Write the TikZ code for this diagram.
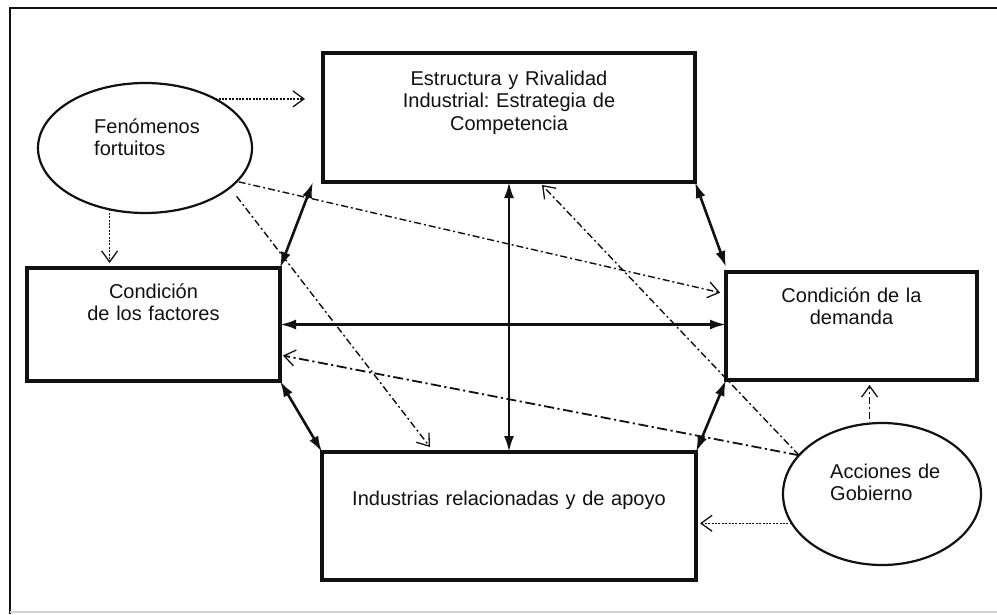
\documentclass[tikz,border=0pt]{standalone}
\usepackage{fontspec}
\setmainfont{Liberation Sans}
\usetikzlibrary{shapes.geometric,arrows.meta,calc}

\definecolor{ink}{HTML}{111111}

\tikzset{
  box/.style={draw=ink, line width=3.2pt, rectangle, inner sep=0pt, outer sep=0pt},
  oval/.style={draw=ink, line width=2.2pt, ellipse, inner sep=0pt, outer sep=0pt},
  label/.style={text=ink, font=\fontsize{20}{22.5}\selectfont, inner sep=0pt, anchor=base},
  both/.style={draw=ink, line width=2.6pt,
    {Latex[length=16pt,width=10pt]}-{Latex[length=16pt,width=10pt]}},
  openhead/.style={-{Straight Barb[length=11pt,width=16pt,line width=1.3pt]}},
  dotline/.style={draw=ink, line width=1.3pt, dash pattern=on 2pt off 1.4pt, openhead},
  dashdot/.style={draw=ink, line width=1.4pt, dash pattern=on 7pt off 3pt on 2pt off 3pt, openhead},
  longdashdot/.style={draw=ink, line width=1.8pt, dash pattern=on 10pt off 3.5pt on 2.2pt off 3.5pt, openhead},
}

\begin{document}
\frenchspacing
\begin{tikzpicture}[x=1pt, y=-1pt]
  \useasboundingbox (0,0) rectangle (997,614);

  % outer frame
  \draw[ink, line width=2.2pt] (997,8) -- (10,8) -- (10,614);
  \draw[gray!35, line width=1.2pt] (10,612) -- (997,612);

  % the four determinants
  \node[box, minimum width=372pt, minimum height=129pt] (top) at (509,117.5) {};
  \node[box, minimum width=253pt, minimum height=113pt] (left) at (153.5,324.5) {};
  \node[box, minimum width=251pt, minimum height=108pt] (right) at (851.5,326) {};
  \node[box, minimum width=374pt, minimum height=128pt] (bot) at (509,516) {};

  \node[label, text width=330pt, align=center] (toptext) at ([yshift=-32pt]top.north)
    {Estructura y Rivalidad\\Industrial: Estrategia de\\Competencia};
  \node[label, text width=230pt, align=center] (lefttext) at ([yshift=-30pt]left.north)
    {Condición\\de los factores};
  \node[label, text width=230pt, align=center] (righttext) at ([yshift=-30pt]right.north)
    {Condición de la\\demanda};
  \node[label, text width=360pt, align=center] (bottext) at ([yshift=-53pt]bot.north)
    {Industrias relacionadas y de apoyo};

  % the two external influences
  \node[oval, minimum width=214pt, minimum height=130pt] (fen) at (145,148) {};
  \node[oval, minimum width=198pt, minimum height=142pt] (acc) at (882,494) {};

  \node[label, text width=130pt, align=left, anchor=base west] (fentext)
    at ([xshift=-51pt, yshift=15pt]fen.center) {Fenómenos\\fortuitos};
  \node[label, text width=130pt, align=left, anchor=base west] (acctext)
    at ([xshift=-52pt, yshift=16pt]acc.center) {Acciones de\\Gobierno};

  % mutual relations between the determinants
  \draw[both] ([xshift=-10pt]top.south west) -- (left.north east);
  \draw[both] (left.south east) -- (bot.north west);
  \draw[both] (top.south east) -- ([yshift=5pt]right.north west);
  \draw[both] (right.south west) -- (bot.north east);
  \draw[both] (top.south) -- (bot.north);
  \draw[both] (left.east) -- (left.east -| right.west);

  % influence of chance events
  \draw[dotline, shorten >=18pt] (fen.35) -- (fen.35 -| top.west);
  \draw[dotline, shorten >=5pt] (fen.240) -- (fen.240 |- left.north);
  \draw[dashdot, shorten <=2pt, shorten >=6pt] (fen.-20) -- ([yshift=32pt]right.west);
  \draw[dashdot, shorten <=11pt] (fen.-25) -- ([xshift=-79pt, yshift=5pt]bot.north);

  % influence of government
  \draw[dashdot] (acc.155) -- ([xshift=33pt, yshift=-3pt]top.south);
  \draw[longdashdot, shorten >=3pt] (acc.155) -- ([yshift=-30.5pt]left.east);
  \draw[dashdot, shorten <=5pt, shorten >=5pt] (acc.100) -- (acc.100 |- right.south);
  \draw[dotline, shorten >=4pt] (acc.198) -- (acc.198 -| bot.east);
\end{tikzpicture}
\end{document}
